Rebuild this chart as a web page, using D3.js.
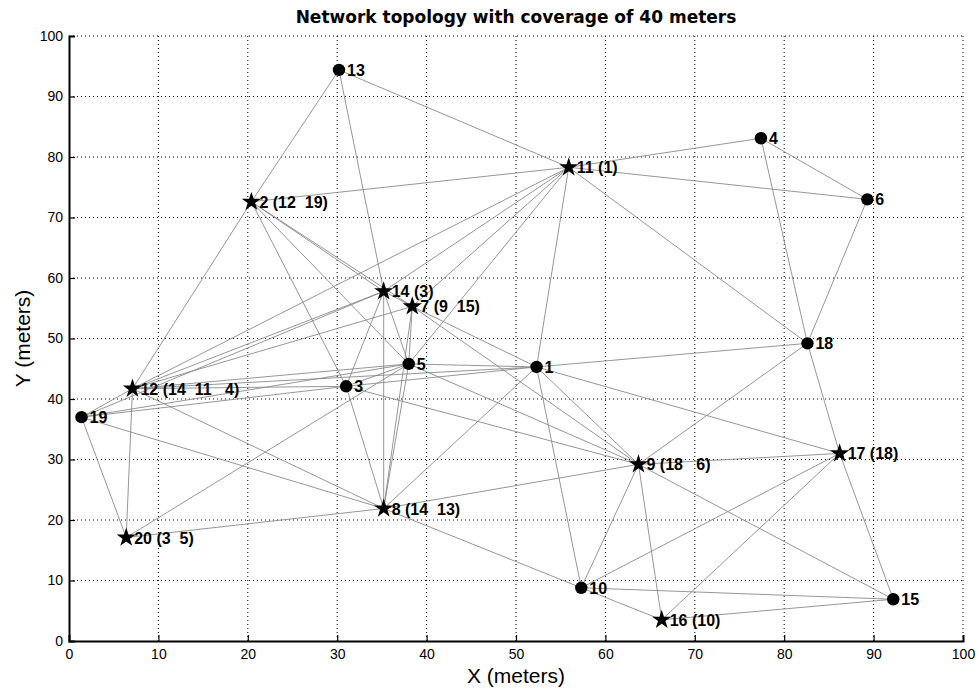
<!DOCTYPE html>
<html>
<head>
<meta charset="utf-8">
<script src="https://cdn.jsdelivr.net/npm/d3@7"></script>
<style>
  body { margin: 0; background: #fff; }
  svg { font-family: "Liberation Sans", Arial, sans-serif; }
</style>
</head>
<body>
<div id="chart"></div>
<script>
// node ids, positions (meters) and type
const nodeIds = [1, 2, 3, 4, 5, 6, 7, 8, 9, 10, 11, 12, 13, 14, 15, 16, 17, 18, 19, 20];
const nodeX = [52.3, 20.4, 31.0, 77.4, 38.0, 89.3, 38.4, 35.2, 63.7, 57.3, 55.9, 7.1, 30.2, 35.2, 92.2, 66.3, 86.2, 82.6, 1.4, 6.4];
const nodeY = [45.3, 72.6, 42.1, 83.1, 45.8, 73.0, 55.3, 21.9, 29.2, 8.8, 78.3, 41.7, 94.4, 57.8, 6.9, 3.5, 31.0, 49.2, 37.0, 17.1];
// star = cluster head, its members in brackets
const heads = [2, 7, 8, 9, 11, 12, 14, 16, 17, 20];
const members = {
    2: "(12  19)", 7: "(9  15)", 8: "(14  13)", 9: "(18   6)", 11: "(1)",
    12: "(14  11   4)", 14: "(3)", 16: "(10)", 17: "(18)", 20: "(3  5)"
};

// links between nodes
const links = [
    [13, 2], [13, 11], [13, 14],
    [2, 11], [2, 12], [2, 14], [2, 7], [2, 5], [2, 3],
    [11, 4], [11, 6], [11, 18], [11, 1], [11, 14], [11, 7], [11, 5], [11, 12],
    [4, 6], [4, 18], [6, 18],
    [18, 1], [18, 9], [18, 17],
    [17, 1], [17, 9], [17, 15], [17, 16], [17, 10],
    [1, 9], [1, 10], [1, 8], [1, 5], [1, 3], [1, 7], [1, 12],
    [9, 10], [9, 16], [9, 15], [9, 5], [9, 3], [9, 7], [9, 8],
    [10, 16], [10, 15], [10, 8],
    [16, 15],
    [8, 20], [8, 12], [8, 19], [8, 14], [8, 7], [8, 5], [8, 3],
    [20, 19], [20, 12], [20, 5],
    [19, 12], [19, 14], [19, 3], [19, 5],
    [12, 14], [12, 7], [12, 3], [12, 5],
    [14, 7], [14, 5], [14, 3],
    [7, 5], [3, 5]
];

const ticks = d3.range(0, 101, 10);

const width = 979, height = 690;
const margin = {top: 36, right: 16, bottom: 49, left: 69};

const nodes = nodeIds.map((id, i) => ({id: id, x: nodeX[i], y: nodeY[i], head: heads.includes(id)}));
const byId = new Map(nodes.map(d => [d.id, d]));

const svg = d3.select("#chart").append("svg")
    .attr("width", width)
    .attr("height", height);

const xScale = d3.scaleLinear().domain([0, 100]).range([margin.left, width - margin.right]);
const yScale = d3.scaleLinear().domain([0, 100]).range([height - margin.bottom, margin.top]);

// grid
const grid = svg.append("g")
    .attr("stroke", "#000")
    .attr("stroke-width", 1)
    .attr("stroke-dasharray", "1,3");

grid.selectAll(".gx").data(ticks.slice(1))
    .join("line")
        .attr("x1", d => xScale(d)).attr("x2", d => xScale(d))
        .attr("y1", yScale(0)).attr("y2", yScale(100));

grid.selectAll(".gy").data(ticks.slice(1))
    .join("line")
        .attr("class", "gy")
        .attr("x1", xScale(0)).attr("x2", xScale(100))
        .attr("y1", d => yScale(d)).attr("y2", d => yScale(d));

// axes (ticks point inwards like matlab)
const xAxis = svg.append("g")
    .attr("transform", `translate(0, ${yScale(0)})`)
    .call(d3.axisBottom(xScale).tickValues(ticks).tickSize(-6).tickPadding(8));

const yAxis = svg.append("g")
    .attr("transform", `translate(${xScale(0)}, 0)`)
    .call(d3.axisLeft(yScale).tickValues(ticks).tickSize(-6).tickPadding(6));

[xAxis, yAxis].forEach(g => {
    g.select(".domain").attr("stroke", "#000").attr("stroke-width", 2);
    g.selectAll(".tick line").attr("stroke", "#000").attr("stroke-width", 1.2);
    g.selectAll(".tick text")
        .attr("fill", "#000")
        .style("font-size", "14px")
        .style("font-family", "'Liberation Sans', Arial, sans-serif");
});
xAxis.selectAll(".tick").filter(d => d === 0 || d === 100).select("line").remove();
yAxis.selectAll(".tick").filter(d => d === 0 || d === 100).select("line").remove();

// links
svg.append("g")
    .attr("stroke", "#8a8a8a")
    .attr("stroke-width", 0.9)
    .selectAll("line")
    .data(links)
    .join("line")
        .attr("x1", d => xScale(byId.get(d[0]).x))
        .attr("y1", d => yScale(byId.get(d[0]).y))
        .attr("x2", d => xScale(byId.get(d[1]).x))
        .attr("y2", d => yScale(byId.get(d[1]).y));

// markers
const star = d3.symbol().type(d3.symbolStar).size(115);
const marks = svg.append("g");

marks.selectAll("circle")
    .data(nodes.filter(d => !d.head))
    .join("circle")
        .attr("cx", d => xScale(d.x))
        .attr("cy", d => yScale(d.y))
        .attr("r", 6.2)
        .attr("fill", "#000");

marks.selectAll("path")
    .data(nodes.filter(d => d.head))
    .join("path")
        .attr("d", star)
        .attr("transform", d => `translate(${xScale(d.x)}, ${yScale(d.y)})`)
        .attr("fill", "#000");

// labels
svg.append("g")
    .selectAll("text")
    .data(nodes)
    .join("text")
        .attr("x", d => xScale(d.x) + 8)
        .attr("y", d => yScale(d.y) + 6)
        .style("font-size", "16px")
        .style("font-weight", "bold")
        .style("white-space", "pre")
        .attr("fill", "#000")
        .text(d => d.head ? `${d.id} ${members[d.id]}` : `${d.id}`);

// title and axis labels
svg.append("text")
    .attr("x", (xScale(0) + xScale(100)) / 2)
    .attr("y", 23)
    .attr("text-anchor", "middle")
    .style("font-family", "'DejaVu Sans', sans-serif")
    .style("font-size", "17px")
    .style("font-weight", "bold")
    .text("Network topology with coverage of 40 meters");

svg.append("text")
    .attr("x", (xScale(0) + xScale(100)) / 2)
    .attr("y", 683)
    .attr("text-anchor", "middle")
    .style("font-size", "21px")
    .text("X (meters)");

svg.append("text")
    .attr("transform", `translate(30, ${(yScale(0) + yScale(100)) / 2}) rotate(-90)`)
    .attr("text-anchor", "middle")
    .style("font-size", "21px")
    .text("Y (meters)");
</script>
</body>
</html>
